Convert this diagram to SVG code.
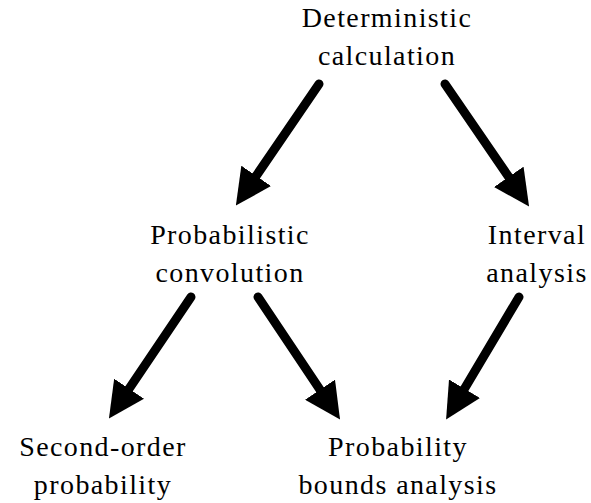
<svg xmlns="http://www.w3.org/2000/svg" width="591" height="503" viewBox="0 0 591 503">
<style>
text{font-family:"Liberation Serif","Times New Roman",serif;font-size:28px;letter-spacing:1.4px;fill:#000;text-anchor:middle}
.c{stroke:#000;stroke-width:9;stroke-linecap:round;fill:none;marker-end:url(#ah)}
</style>
<defs>
<marker id="ah" markerUnits="userSpaceOnUse" markerWidth="36" markerHeight="36" viewBox="0 0 34 34" refX="2" refY="17" orient="auto">
<path d="M0,0 L34,17 L0,34 z" fill="#000"/>
</marker>
</defs>
<rect width="591" height="503" fill="#fff"/>
<g id="n-det"><text x="387" y="27">Deterministic</text><text x="387" y="65">calculation</text></g>
<g id="n-prob"><text x="230" y="244">Probabilistic</text><text x="230" y="282">convolution</text></g>
<g id="n-int"><text x="537" y="244">Interval</text><text x="537" y="282">analysis</text></g>
<g id="n-sec"><text x="103" y="456">Second-order</text><text x="103" y="494">probability</text></g>
<g id="n-pba"><text x="398" y="456">Probability</text><text x="398" y="494">bounds analysis</text></g>
<g id="connectors">
<line class="c" x1="319" y1="84" x2="255" y2="177.6"/>
<line class="c" x1="445" y1="84" x2="509.9" y2="178.6"/>
<line class="c" x1="191" y1="297" x2="127.9" y2="390.5"/>
<line class="c" x1="258" y1="297" x2="321.2" y2="391.4"/>
<line class="c" x1="519" y1="297" x2="463.4" y2="390.5"/>
</g>
</svg>
